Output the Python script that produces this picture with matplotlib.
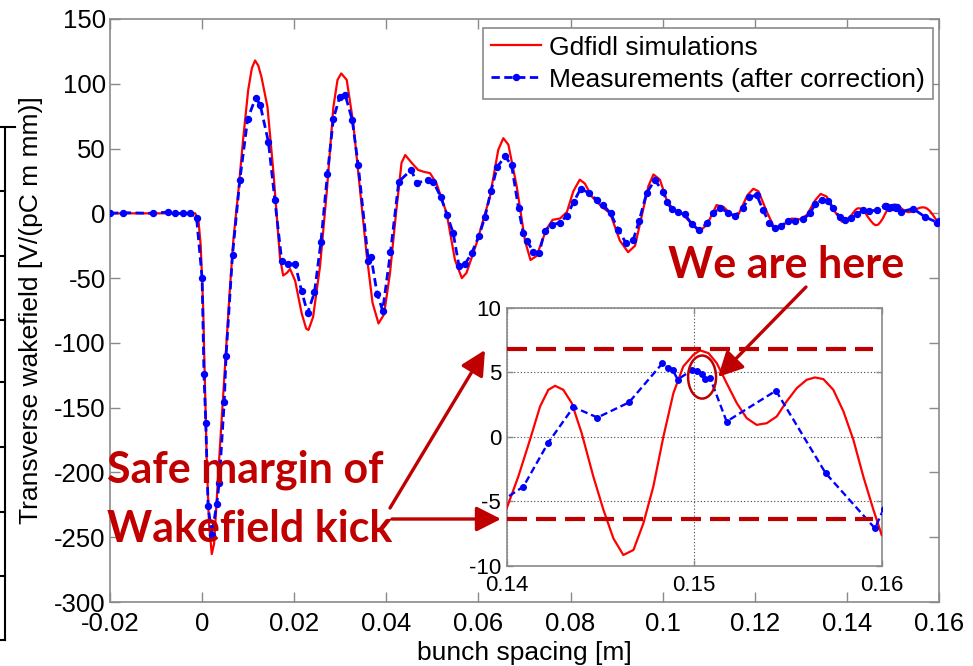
import matplotlib
matplotlib.use("Agg")
import matplotlib.pyplot as plt
from matplotlib.patches import Ellipse, FancyArrowPatch
from matplotlib.lines import Line2D

# ---------------- data ----------------
# Gdfidl simulated transverse wakefield [V/(pC m mm)] vs bunch spacing [m]
sim_x = [-0.0200, -0.0015, -0.0008, -0.0003, 0.0002, 0.0006, 0.0010, 0.0015, 0.0021, 0.0026,
         0.0031, 0.0037, 0.0044, 0.0052, 0.0060, 0.0068, 0.0079, 0.0089, 0.0100, 0.0108,
         0.0115, 0.0122, 0.0129, 0.0142, 0.0155, 0.0169, 0.0176, 0.0184, 0.0191, 0.0202,
         0.0216, 0.0226, 0.0231, 0.0241, 0.0256, 0.0271, 0.0285, 0.0294, 0.0302, 0.0314,
         0.0328, 0.0343, 0.0357, 0.0370, 0.0383, 0.0395, 0.0408, 0.0421, 0.0433, 0.0441,
         0.0455, 0.0469, 0.0482, 0.0495, 0.0509, 0.0531, 0.0549, 0.0564, 0.0574, 0.0596,
         0.0625, 0.0643, 0.0654, 0.0665, 0.0683, 0.0701, 0.0713, 0.0726, 0.0748, 0.0761,
         0.0777, 0.0792, 0.0806, 0.0820, 0.0831, 0.0846, 0.0868, 0.0886, 0.0907, 0.0925,
         0.0940, 0.0954, 0.0969, 0.0980, 0.0994, 0.1009, 0.1023, 0.1040, 0.1063, 0.1079,
         0.1096, 0.1117, 0.1132, 0.1150, 0.1164, 0.1184, 0.1197, 0.1208, 0.1226, 0.1244,
         0.1262, 0.1280, 0.1298, 0.1313, 0.1331, 0.1343, 0.1356, 0.1374, 0.1389, 0.1394,
         0.14000, 0.14062, 0.14124, 0.14178, 0.14222, 0.14258, 0.14302, 0.14347, 0.14400, 0.14462,
         0.14516, 0.14569, 0.14622, 0.14676, 0.14729, 0.14782, 0.14836, 0.14889, 0.14942, 0.14996,
         0.15031, 0.15076, 0.15120, 0.15173, 0.15227, 0.15280, 0.15333, 0.15387, 0.15440, 0.15493,
         0.15547, 0.15600, 0.15644, 0.15689, 0.15742, 0.15796, 0.15849, 0.15902, 0.15956, 0.16000]
sim_y = [0.0, 0.0, -5.0, -25.0, -70.0, -130.0, -190.0, -240.0, -263.0, -255.0,
         -225.0, -190.0, -150.0, -105.0, -60.0, -20.0, 18.0, 57.0, 95.0, 112.0,
         118.0, 114.0, 105.0, 82.0, 31.0, -34.0, -48.0, -46.0, -43.0, -52.0,
         -77.0, -89.0, -90.0, -80.0, -41.0, 18.0, 82.0, 103.0, 108.0, 103.0,
         70.0, 18.0, -31.0, -69.0, -85.0, -78.0, -46.0, 0.0, 39.0, 45.0,
         39.0, 33.5, 32.0, 31.0, 23.0, 0.0, -36.0, -50.0, -46.0, -23.0,
         13.0, 49.0, 58.0, 53.0, 21.0, -21.0, -36.0, -33.0, -12.0, -5.0,
         -4.0, 1.0, 17.0, 26.0, 23.0, 13.0, 5.0, 0.0, -21.0, -30.0,
         -25.0, -3.0, 21.0, 30.0, 26.0, 10.0, 3.0, 0.5, -8.0, -14.0,
         -9.0, 6.4, 5.0, -1.3, -1.3, 14.0, 19.0, 17.0, 1.3, -12.4,
         -9.0, -4.0, -4.6, -1.3, 10.0, 15.0, 13.0, 1.3, -6.4, -6.5,
         -5.54, -3.08, -0.23, 2.36, 3.65, 3.96, 3.65, 2.62, 0.28, -3.08,
         -5.67, -7.88, -9.17, -8.78, -6.71, -3.86, 0.03, 3.39, 5.47, 6.37,
         6.71, 6.50, 5.73, 4.17, 2.62, 1.45, 0.93, 1.06, 1.58, 2.75,
         3.78, 4.43, 4.61, 4.48, 3.65, 1.97, -0.23, -3.08, -5.67, -7.62]

# Measured wakefield (after correction)
meas_x = [-0.0200, -0.0171, -0.0107, -0.0075, -0.0059, -0.0042, -0.0026, -0.0012, 0.0000, 0.0004,
          0.0008, 0.0013, 0.0021, 0.0032, 0.0037, 0.0048, 0.0052, 0.0066, 0.0082, 0.0099,
          0.0116, 0.0126, 0.0144, 0.0158, 0.0173, 0.0187, 0.0202, 0.0216, 0.0229, 0.0244,
          0.0258, 0.0272, 0.0285, 0.0299, 0.0311, 0.0326, 0.0339, 0.0361, 0.0367, 0.0380,
          0.0392, 0.0409, 0.0427, 0.0454, 0.0466, 0.0491, 0.0502, 0.0518, 0.0532, 0.0545,
          0.0558, 0.0571, 0.0585, 0.0601, 0.0614, 0.0627, 0.0641, 0.0658, 0.0672, 0.0687,
          0.0697, 0.0705, 0.0719, 0.0732, 0.0744, 0.0759, 0.0776, 0.0792, 0.0807, 0.0822,
          0.0841, 0.0857, 0.0871, 0.0887, 0.0904, 0.0920, 0.0936, 0.0949, 0.0965, 0.0983,
          0.1001, 0.1009, 0.1020, 0.1034, 0.1048, 0.1063, 0.1079, 0.1096, 0.1110, 0.1124,
          0.1142, 0.1157, 0.1174, 0.1188, 0.1204, 0.1218, 0.1231, 0.1244, 0.1258, 0.1273,
          0.1287, 0.1305, 0.1320, 0.1331, 0.1345, 0.1360, 0.1370, 0.1385, 0.1396,
          0.14089, 0.14222, 0.14356, 0.14484, 0.14652, 0.14830, 0.14860, 0.14885, 0.14912, 0.14990,
          0.15015, 0.15040, 0.15058, 0.15084, 0.15173, 0.15436, 0.15701, 0.15964, 0.16010]
meas_y = [0.0, 0.5, 0.0, 1.0, 0.0, 0.0, 0.0, -3.5, -50.0, -124.0,
          -162.0, -226.0, -248.0, -224.0, -208.0, -146.0, -110.0, -32.0, 26.0, 73.0,
          89.0, 84.0, 55.0, 10.0, -37.0, -39.0, -39.0, -60.0, -77.0, -61.0,
          -22.0, 30.0, 73.0, 90.0, 91.0, 72.0, 37.0, -37.0, -34.0, -62.0,
          -75.0, -30.0, 24.5, 33.5, 23.5, 25.7, 24.4, 12.8, -1.3, -15.0,
          -41.0, -39.0, -31.0, -17.5, -3.0, 17.0, 36.0, 44.0, 37.0, 4.0,
          -15.0, -21.0, -29.6, -30.4, -13.4, -9.0, -7.2, -2.0, 9.0, 19.0,
          15.5, 10.3, 6.4, 0.0, -13.0, -22.7, -20.6, -5.7, 15.5, 25.7,
          16.7, 9.0, 3.0, 0.8, -0.7, -8.2, -12.9, -7.7, 0.0, 4.4,
          0.5, -2.1, 3.9, 12.4, 14.2, 2.6, -7.2, -11.6, -9.5, -5.9,
          -5.9, -4.6, 0.0, 7.0, 10.3, 9.5, 3.9, -3.1, -5.1,
          -3.86, -0.44, 2.31, 1.50, 2.67, 5.70, 5.35, 5.20, 4.45, 5.20,
          5.10, 4.90, 4.50, 4.60, 1.19, 3.58, -2.82, -7.10, -5.60]

x_ticks = [-0.02, 0.0, 0.02, 0.04, 0.06, 0.08, 0.10, 0.12, 0.14, 0.16]
x_tick_labels = ["-0.02", "0", "0.02", "0.04", "0.06", "0.08", "0.1", "0.12", "0.14", "0.16"]
y_ticks = [-300, -250, -200, -150, -100, -50, 0, 50, 100, 150]

inset_x_ticks = [0.14, 0.15, 0.16]
inset_x_tick_labels = ["0.14", "0.15", "0.16"]
inset_y_ticks = [-10, -5, 0, 5, 10]

# tolerated kick band and the current operating point
margin_upper = 6.8
margin_lower = -6.4
here_x, here_y = 0.15042, 4.64

# ---------------- styling ----------------
plt.rcParams["font.family"] = ["Liberation Sans", "DejaVu Sans"]
plt.rcParams["axes.unicode_minus"] = False
W, H = 973, 666
DARK_RED = "#c00000"
SPINE = "#8a8a8a"


def fpx(x, y):
    """figure pixel (top-left origin) -> figure fraction"""
    return x / W, 1 - y / H


fig = plt.figure(figsize=(W / 100, H / 100), dpi=100)

# ---------------- main axes ----------------
ax = fig.add_axes([110 / W, 1 - 602 / H, 829 / W, 583 / H])
ax.plot(sim_x, sim_y, color="#ff0000", lw=1.6, label="Gdfidl simulations", zorder=3)
ax.plot(meas_x, meas_y, color="#0000ff", lw=2.0, ls=(0, (3, 1.6)), marker="o", ms=4.3,
        label="Measurements (after correction)", zorder=4)
ax.set_xlim(-0.02, 0.16)
ax.set_ylim(-300, 150)
ax.set_xticks(x_ticks)
ax.set_xticklabels(x_tick_labels)
ax.set_yticks(y_ticks)
ax.tick_params(direction="in", top=True, right=True, length=7, width=1,
               colors=SPINE, labelcolor="black", labelsize=18.5)
ax.tick_params(axis="y", pad=3)
ax.tick_params(axis="x", pad=7)
for s in ax.spines.values():
    s.set_color(SPINE)
    s.set_linewidth(1.2)

ax.set_xlabel("bunch spacing [m]", fontsize=19)
ax.xaxis.set_label_coords(0.5, -(641 - 602) / 583)
ax.xaxis.label.set_va("top")
ax.set_ylabel("Transverse wakefield [V/(pC m mm)]", fontsize=19)
ax.yaxis.set_label_coords((43 - 110) / 829, 0.5)

leg = ax.legend(loc="upper right", bbox_to_anchor=(0.993, 0.985), borderaxespad=0,
                fontsize=19, frameon=True, fancybox=False, framealpha=1,
                edgecolor=SPINE, handlelength=1.9, handletextpad=0.3,
                labelspacing=0.3, borderpad=0.3, numpoints=1)
leg.get_frame().set_linewidth(1.2)

# ---------------- inset axes ----------------
axi = fig.add_axes([506.7 / W, 1 - 565.7 / H, 375 / W, 257.7 / H])
axi.plot(sim_x, sim_y, color="#ff0000", lw=1.6, zorder=3)
axi.plot(meas_x, meas_y, color="#0000ff", lw=1.7, ls=(0, (3, 1.6)), marker="o", ms=4.0, zorder=4)
axi.set_xlim(0.14, 0.16)
axi.set_ylim(-10, 10)
axi.set_xticks(inset_x_ticks)
axi.set_xticklabels(inset_x_tick_labels)
axi.set_yticks(inset_y_ticks)
axi.grid(True, ls=(0, (1, 2)), color="#444444", lw=0.8)
axi.tick_params(direction="in", top=True, right=True, length=4, width=1,
                colors=SPINE, labelcolor="black", labelsize=16)
axi.tick_params(axis="y", pad=4)
axi.tick_params(axis="x", pad=7)
for s in axi.spines.values():
    s.set_color(SPINE)
    s.set_linewidth(1.2)

# safe-margin band
dash = (0, (20 * 0.72 / 3.0, 9 * 0.72 / 3.0))
for yv in (margin_upper, margin_lower):
    axi.plot([0.14, 0.15954], [yv, yv], color=DARK_RED, lw=3.0, ls=dash,
             solid_capstyle="butt", dash_capstyle="butt", zorder=5)

# operating point
axi.add_patch(Ellipse((here_x, here_y), width=0.00149, height=3.34, fill=False,
                      ec=DARK_RED, lw=1.8, zorder=6, clip_on=False))

# ---------------- annotations ----------------
ann_font = dict(family=["Lato", "DejaVu Sans"], weight="bold", color=DARK_RED, fontsize=31)
fig.text(*fpx(668, 278), "We are here", ha="left", va="baseline", zorder=10, **ann_font)
fig.text(*fpx(107, 483), "Safe margin of", ha="left", va="baseline", zorder=10, **ann_font)
fig.text(*fpx(107, 542), "Wakefield kick", ha="left", va="baseline", zorder=10, **ann_font)

arrow_kw = dict(arrowstyle="-|>,head_length=0.75,head_width=0.38", lw=2.4,
                color=DARK_RED, mutation_scale=20, shrinkA=0, shrinkB=0)


def arrow(p0, p1):
    fig.add_artist(FancyArrowPatch(fpx(*p0), fpx(*p1), transform=fig.transFigure,
                                   zorder=10, **arrow_kw))


arrow((806, 287), (718, 377))
arrow((390, 508), (485, 350))
arrow((392, 519), (501, 519))

# edge of the neighbouring table
tbl_kw = dict(color="black", lw=1.5, transform=fig.transFigure)
fig.add_artist(Line2D([5 / W, 5 / W], [1 - 127 / H, 1 - 640 / H], **tbl_kw))
fig.add_artist(Line2D([0, 15 / W], [1 - 127 / H, 1 - 127 / H], **tbl_kw))
for yy in (191, 256, 320, 382, 447, 512, 576, 640):
    fig.add_artist(Line2D([0, 5 / W], [1 - yy / H, 1 - yy / H], **tbl_kw))

fig.savefig("out.png", dpi=100)
